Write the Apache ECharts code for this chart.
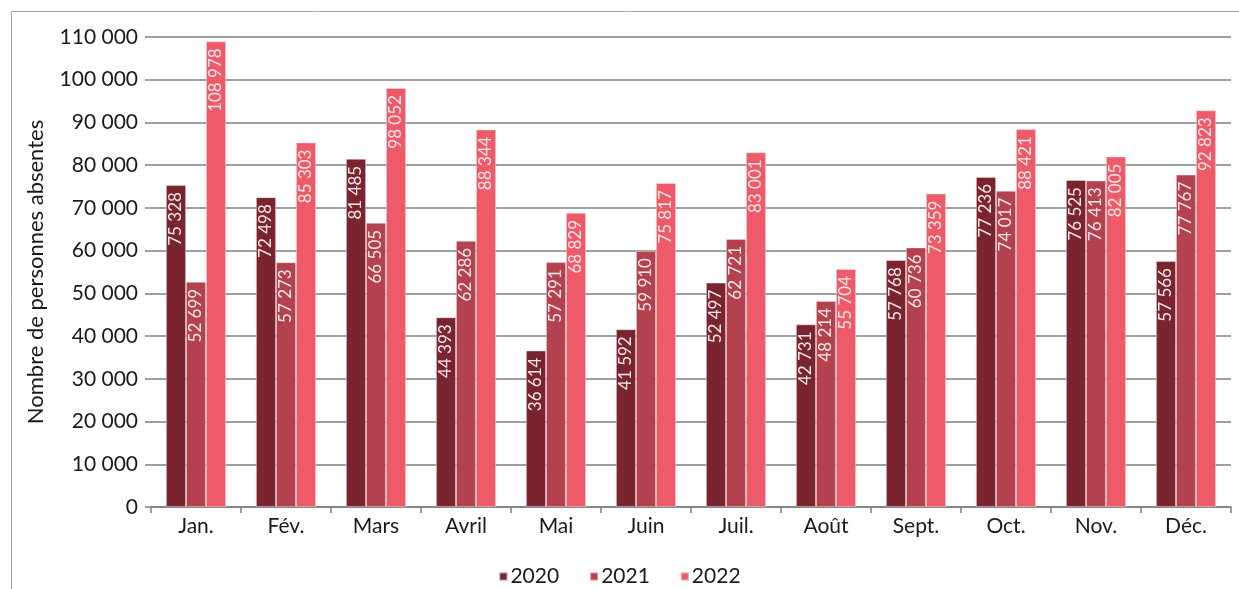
<!DOCTYPE html>
<html>
<head>
<meta charset="utf-8">
<script src="https://cdn.jsdelivr.net/npm/echarts@6/dist/echarts.min.js"></script>
<style>
  html, body { margin: 0; padding: 0; background: #fff; }
  #chart { width: 1239px; height: 589px; }
</style>
</head>
<body>
<div id="chart"></div>
<script>
// Monthly number of absent persons, by year
const months = ['Jan.', 'Fév.', 'Mars', 'Avril', 'Mai', 'Juin', 'Juil.', 'Août', 'Sept.', 'Oct.', 'Nov.', 'Déc.'];
const years = ['2020', '2021', '2022'];
const values2020 = [75328, 72498, 81485, 44393, 36614, 41592, 52497, 42731, 57768, 77236, 76525, 57566];
const values2021 = [52699, 57273, 66505, 62286, 57291, 59910, 62721, 48214, 60736, 74017, 76413, 77767];
const values2022 = [108978, 85303, 98052, 88344, 68829, 75817, 83001, 55704, 73359, 88421, 82005, 92823];
const yAxisTitle = 'Nombre de personnes absentes';

const colors = ['#7a2430', '#b3414e', '#ef5a69'];
const FONT = 'Lato, "Open Sans", sans-serif';

// French thousands separator: "75 328"
function fmt(v) {
  return String(Math.round(v)).replace(/\B(?=(\d{3})+(?!\d))/g, ' ');
}

const seriesValues = [values2020, values2021, values2022];

const chart = echarts.init(document.getElementById('chart'), null, { renderer: 'canvas' });

chart.setOption({
  animation: false,
  color: colors,
  textStyle: { fontFamily: FONT },
  graphic: [{
    type: 'rect',
    shape: { x: 11.5, y: 11.5, width: 1400, height: 700 },
    style: { fill: 'none', stroke: '#a6a6a6', lineWidth: 1 },
    silent: true
  }],
  grid: { left: 151, right: 8, top: 37, bottom: 82, containLabel: false },
  legend: {
    data: years,
    bottom: -3,
    left: 'center',
    itemWidth: 8,
    itemHeight: 8,
    itemGap: 30,
    icon: 'rect',
    textStyle: { fontSize: 21, color: '#1a1a1a', fontFamily: FONT, padding: [0, 0, 0, -2] }
  },
  xAxis: {
    type: 'category',
    data: months,
    axisLine: { show: true, lineStyle: { color: '#7f7f7f', width: 1.5 } },
    axisTick: { show: true, length: 6, lineStyle: { color: '#7f7f7f', width: 1.5 } },
    axisLabel: { fontSize: 21, color: '#1a1a1a', margin: 9, fontFamily: FONT }
  },
  yAxis: {
    type: 'value',
    min: 0,
    max: 110000,
    interval: 10000,
    name: yAxisTitle,
    nameLocation: 'middle',
    nameGap: 104,
    nameRotate: 90,
    nameTextStyle: { fontSize: 22, color: '#1a1a1a', fontFamily: FONT },
    axisLine: { show: false },
    axisTick: { show: true, length: 6, lineStyle: { color: '#7f7f7f', width: 1.5 } },
    splitLine: { show: true, lineStyle: { color: '#7f7f7f', width: 1.5 } },
    axisLabel: { fontSize: 21, color: '#1a1a1a', margin: 13, fontFamily: FONT, formatter: fmt }
  },
  series: seriesValues.map((vals, i) => ({
    name: years[i],
    type: 'bar',
    data: vals,
    barGap: '0%',
    barCategoryGap: '33.3%',
    itemStyle: { color: colors[i], borderColor: 'rgba(255,235,238,0.55)', borderWidth: 0.8 },
    label: {
      show: true,
      position: 'insideTop',
      rotate: 90,
      align: 'right',
      verticalAlign: 'middle',
      distance: 7,
      fontSize: 17,
      color: '#f7e8ea',
      fontFamily: FONT,
      formatter: p => fmt(p.value)
    }
  }))
});
</script>
</body>
</html>
